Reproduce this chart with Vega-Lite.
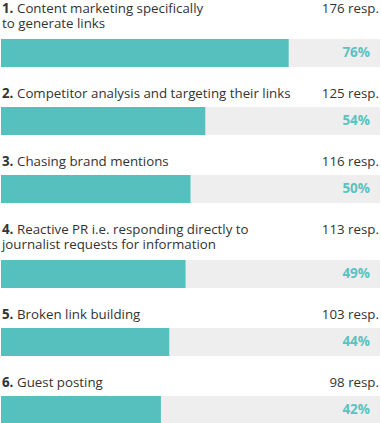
{
  "$schema": "https://vega.github.io/schema/vega-lite/v6.json",
  "padding": {"top": 2, "left": 1, "right": 0, "bottom": 0},
  "autosize": {"type": "pad"},
  "background": "white",
  "config": {
    "view": {"stroke": null},
    "text": {"font": "Open Sans", "fontSize": 13.3, "color": "#333333"},
    "concat": {"spacing": 20}
  },
  "resolve": {"scale": {"x": "independent", "y": "independent"}},
  "data": {"values": [
    {"item": 1, "num": "1.", "l1": "Content marketing specifically", "l2": "to generate links", "resp": "176 resp.", "pct": "76%", "share": 75.9},
    {"item": 2, "num": "2.", "l1": "Competitor analysis and targeting their links", "l2": "", "resp": "125 resp.", "pct": "54%", "share": 53.9},
    {"item": 3, "num": "3.", "l1": "Chasing brand mentions", "l2": "", "resp": "116 resp.", "pct": "50%", "share": 50.0},
    {"item": 4, "num": "4.", "l1": "Reactive PR i.e. responding directly to", "l2": "journalist requests for information", "resp": "113 resp.", "pct": "49%", "share": 48.7},
    {"item": 5, "num": "5.", "l1": "Broken link building", "l2": "", "resp": "103 resp.", "pct": "44%", "share": 44.4},
    {"item": 6, "num": "6.", "l1": "Guest posting", "l2": "", "resp": "98 resp.", "pct": "42%", "share": 42.2}
  ]},
  "vconcat": [
    {
      "width": 379, "height": 28,
      "transform": [{"filter": "datum.item == 1"}],
      "encoding": {"y": {"field": "item", "type": "nominal", "axis": null, "scale": {"paddingInner": 0, "paddingOuter": 0}}},
      "layer": [
        {"mark": {"type": "bar", "color": "#eeeeee"}, "encoding": {"x": {"datum": 100, "type": "quantitative", "scale": {"domain": [0, 100], "nice": false}, "axis": null}}},
        {"mark": {"type": "bar", "color": "#56c0bf"}, "encoding": {"x": {"field": "share", "type": "quantitative"}}},
        {"mark": {"type": "text", "align": "right", "baseline": "middle", "dx": -10, "fontWeight": "bold", "fontSize": 13.5, "color": "#5bc3bf"}, "encoding": {"x": {"datum": 100, "type": "quantitative"}, "text": {"field": "pct"}}},
        {"mark": {"type": "text", "align": "left", "baseline": "alphabetic", "dx": 1, "dy": -26, "fontWeight": "bold"}, "encoding": {"x": {"datum": 0, "type": "quantitative"}, "y": {"field": "item", "type": "nominal", "bandPosition": 0}, "text": {"field": "num"}}},
        {"mark": {"type": "text", "align": "left", "baseline": "alphabetic", "dx": 16, "dy": -26}, "encoding": {"x": {"datum": 0, "type": "quantitative"}, "y": {"field": "item", "type": "nominal", "bandPosition": 0}, "text": {"field": "l1"}}},
        {"mark": {"type": "text", "align": "left", "baseline": "alphabetic", "dx": 1, "dy": -11}, "encoding": {"x": {"datum": 0, "type": "quantitative"}, "y": {"field": "item", "type": "nominal", "bandPosition": 0}, "text": {"field": "l2"}}},
        {"mark": {"type": "text", "align": "right", "baseline": "alphabetic", "dx": -1, "dy": -26}, "encoding": {"x": {"datum": 100, "type": "quantitative"}, "y": {"field": "item", "type": "nominal", "bandPosition": 0}, "text": {"field": "resp"}}}
      ]
    },
    {
      "width": 379, "height": 28,
      "transform": [{"filter": "datum.item == 2"}],
      "encoding": {"y": {"field": "item", "type": "nominal", "axis": null, "scale": {"paddingInner": 0, "paddingOuter": 0}}},
      "layer": [
        {"mark": {"type": "bar", "color": "#eeeeee"}, "encoding": {"x": {"datum": 100, "type": "quantitative", "scale": {"domain": [0, 100], "nice": false}, "axis": null}}},
        {"mark": {"type": "bar", "color": "#56c0bf"}, "encoding": {"x": {"field": "share", "type": "quantitative"}}},
        {"mark": {"type": "text", "align": "right", "baseline": "middle", "dx": -10, "fontWeight": "bold", "fontSize": 13.5, "color": "#5bc3bf"}, "encoding": {"x": {"datum": 100, "type": "quantitative"}, "text": {"field": "pct"}}},
        {"mark": {"type": "text", "align": "left", "baseline": "alphabetic", "dx": 1, "dy": -9, "fontWeight": "bold"}, "encoding": {"x": {"datum": 0, "type": "quantitative"}, "y": {"field": "item", "type": "nominal", "bandPosition": 0}, "text": {"field": "num"}}},
        {"mark": {"type": "text", "align": "left", "baseline": "alphabetic", "dx": 16, "dy": -9}, "encoding": {"x": {"datum": 0, "type": "quantitative"}, "y": {"field": "item", "type": "nominal", "bandPosition": 0}, "text": {"field": "l1"}}},
        {"mark": {"type": "text", "align": "right", "baseline": "alphabetic", "dx": -1, "dy": -9}, "encoding": {"x": {"datum": 100, "type": "quantitative"}, "y": {"field": "item", "type": "nominal", "bandPosition": 0}, "text": {"field": "resp"}}}
      ]
    },
    {
      "width": 379, "height": 28,
      "transform": [{"filter": "datum.item == 3"}],
      "encoding": {"y": {"field": "item", "type": "nominal", "axis": null, "scale": {"paddingInner": 0, "paddingOuter": 0}}},
      "layer": [
        {"mark": {"type": "bar", "color": "#eeeeee"}, "encoding": {"x": {"datum": 100, "type": "quantitative", "scale": {"domain": [0, 100], "nice": false}, "axis": null}}},
        {"mark": {"type": "bar", "color": "#56c0bf"}, "encoding": {"x": {"field": "share", "type": "quantitative"}}},
        {"mark": {"type": "text", "align": "right", "baseline": "middle", "dx": -10, "fontWeight": "bold", "fontSize": 13.5, "color": "#5bc3bf"}, "encoding": {"x": {"datum": 100, "type": "quantitative"}, "text": {"field": "pct"}}},
        {"mark": {"type": "text", "align": "left", "baseline": "alphabetic", "dx": 1, "dy": -9, "fontWeight": "bold"}, "encoding": {"x": {"datum": 0, "type": "quantitative"}, "y": {"field": "item", "type": "nominal", "bandPosition": 0}, "text": {"field": "num"}}},
        {"mark": {"type": "text", "align": "left", "baseline": "alphabetic", "dx": 16, "dy": -9}, "encoding": {"x": {"datum": 0, "type": "quantitative"}, "y": {"field": "item", "type": "nominal", "bandPosition": 0}, "text": {"field": "l1"}}},
        {"mark": {"type": "text", "align": "right", "baseline": "alphabetic", "dx": -1, "dy": -9}, "encoding": {"x": {"datum": 100, "type": "quantitative"}, "y": {"field": "item", "type": "nominal", "bandPosition": 0}, "text": {"field": "resp"}}}
      ]
    },
    {
      "width": 379, "height": 28,
      "transform": [{"filter": "datum.item == 4"}],
      "encoding": {"y": {"field": "item", "type": "nominal", "axis": null, "scale": {"paddingInner": 0, "paddingOuter": 0}}},
      "layer": [
        {"mark": {"type": "bar", "color": "#eeeeee"}, "encoding": {"x": {"datum": 100, "type": "quantitative", "scale": {"domain": [0, 100], "nice": false}, "axis": null}}},
        {"mark": {"type": "bar", "color": "#56c0bf"}, "encoding": {"x": {"field": "share", "type": "quantitative"}}},
        {"mark": {"type": "text", "align": "right", "baseline": "middle", "dx": -10, "fontWeight": "bold", "fontSize": 13.5, "color": "#5bc3bf"}, "encoding": {"x": {"datum": 100, "type": "quantitative"}, "text": {"field": "pct"}}},
        {"mark": {"type": "text", "align": "left", "baseline": "alphabetic", "dx": 1, "dy": -26, "fontWeight": "bold"}, "encoding": {"x": {"datum": 0, "type": "quantitative"}, "y": {"field": "item", "type": "nominal", "bandPosition": 0}, "text": {"field": "num"}}},
        {"mark": {"type": "text", "align": "left", "baseline": "alphabetic", "dx": 16, "dy": -26}, "encoding": {"x": {"datum": 0, "type": "quantitative"}, "y": {"field": "item", "type": "nominal", "bandPosition": 0}, "text": {"field": "l1"}}},
        {"mark": {"type": "text", "align": "left", "baseline": "alphabetic", "dx": 1, "dy": -11}, "encoding": {"x": {"datum": 0, "type": "quantitative"}, "y": {"field": "item", "type": "nominal", "bandPosition": 0}, "text": {"field": "l2"}}},
        {"mark": {"type": "text", "align": "right", "baseline": "alphabetic", "dx": -1, "dy": -26}, "encoding": {"x": {"datum": 100, "type": "quantitative"}, "y": {"field": "item", "type": "nominal", "bandPosition": 0}, "text": {"field": "resp"}}}
      ]
    },
    {
      "width": 379, "height": 28,
      "transform": [{"filter": "datum.item == 5"}],
      "encoding": {"y": {"field": "item", "type": "nominal", "axis": null, "scale": {"paddingInner": 0, "paddingOuter": 0}}},
      "layer": [
        {"mark": {"type": "bar", "color": "#eeeeee"}, "encoding": {"x": {"datum": 100, "type": "quantitative", "scale": {"domain": [0, 100], "nice": false}, "axis": null}}},
        {"mark": {"type": "bar", "color": "#56c0bf"}, "encoding": {"x": {"field": "share", "type": "quantitative"}}},
        {"mark": {"type": "text", "align": "right", "baseline": "middle", "dx": -10, "fontWeight": "bold", "fontSize": 13.5, "color": "#5bc3bf"}, "encoding": {"x": {"datum": 100, "type": "quantitative"}, "text": {"field": "pct"}}},
        {"mark": {"type": "text", "align": "left", "baseline": "alphabetic", "dx": 1, "dy": -9, "fontWeight": "bold"}, "encoding": {"x": {"datum": 0, "type": "quantitative"}, "y": {"field": "item", "type": "nominal", "bandPosition": 0}, "text": {"field": "num"}}},
        {"mark": {"type": "text", "align": "left", "baseline": "alphabetic", "dx": 16, "dy": -9}, "encoding": {"x": {"datum": 0, "type": "quantitative"}, "y": {"field": "item", "type": "nominal", "bandPosition": 0}, "text": {"field": "l1"}}},
        {"mark": {"type": "text", "align": "right", "baseline": "alphabetic", "dx": -1, "dy": -9}, "encoding": {"x": {"datum": 100, "type": "quantitative"}, "y": {"field": "item", "type": "nominal", "bandPosition": 0}, "text": {"field": "resp"}}}
      ]
    },
    {
      "width": 379, "height": 28,
      "transform": [{"filter": "datum.item == 6"}],
      "encoding": {"y": {"field": "item", "type": "nominal", "axis": null, "scale": {"paddingInner": 0, "paddingOuter": 0}}},
      "layer": [
        {"mark": {"type": "bar", "color": "#eeeeee"}, "encoding": {"x": {"datum": 100, "type": "quantitative", "scale": {"domain": [0, 100], "nice": false}, "axis": null}}},
        {"mark": {"type": "bar", "color": "#56c0bf"}, "encoding": {"x": {"field": "share", "type": "quantitative"}}},
        {"mark": {"type": "text", "align": "right", "baseline": "middle", "dx": -10, "fontWeight": "bold", "fontSize": 13.5, "color": "#5bc3bf"}, "encoding": {"x": {"datum": 100, "type": "quantitative"}, "text": {"field": "pct"}}},
        {"mark": {"type": "text", "align": "left", "baseline": "alphabetic", "dx": 1, "dy": -9, "fontWeight": "bold"}, "encoding": {"x": {"datum": 0, "type": "quantitative"}, "y": {"field": "item", "type": "nominal", "bandPosition": 0}, "text": {"field": "num"}}},
        {"mark": {"type": "text", "align": "left", "baseline": "alphabetic", "dx": 16, "dy": -9}, "encoding": {"x": {"datum": 0, "type": "quantitative"}, "y": {"field": "item", "type": "nominal", "bandPosition": 0}, "text": {"field": "l1"}}},
        {"mark": {"type": "text", "align": "right", "baseline": "alphabetic", "dx": -1, "dy": -9}, "encoding": {"x": {"datum": 100, "type": "quantitative"}, "y": {"field": "item", "type": "nominal", "bandPosition": 0}, "text": {"field": "resp"}}}
      ]
    }
  ]
}
